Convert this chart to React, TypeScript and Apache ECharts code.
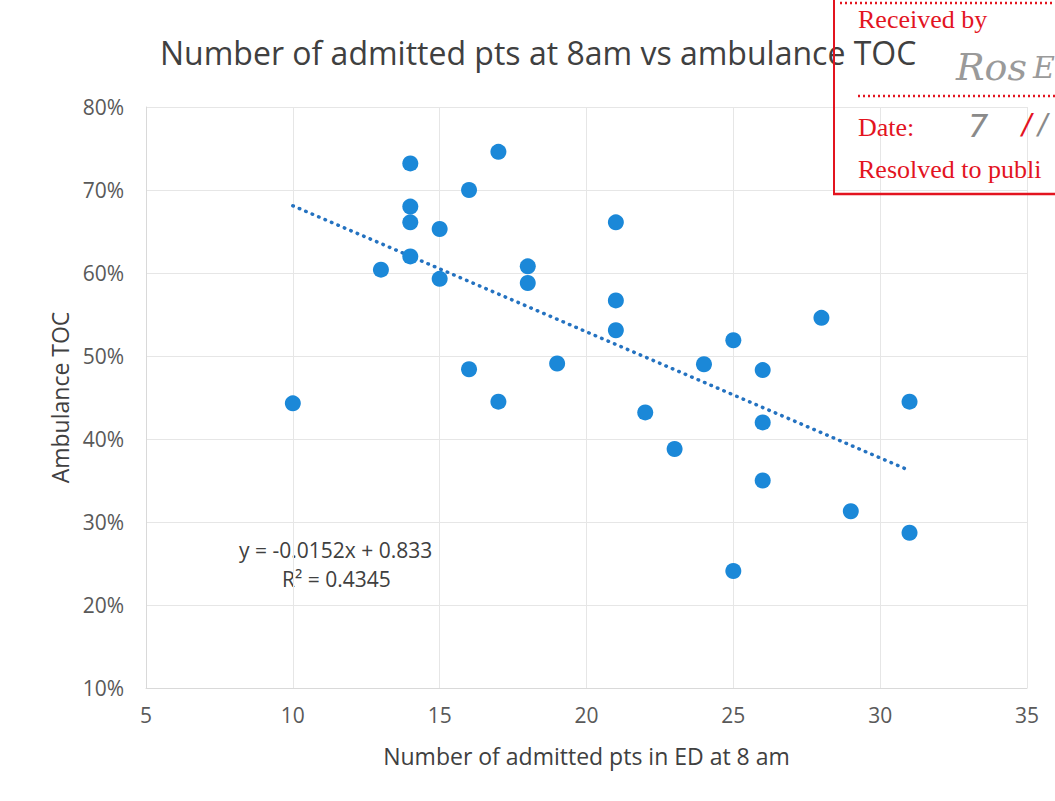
import React, { useEffect, useRef } from "react";
import * as echarts from "echarts";

const titleText = "Number of admitted pts at 8am vs ambulance TOC";
const xAxisName = "Number of admitted pts in ED at 8 am";
const yAxisName = "Ambulance TOC";

// x: admitted patients, y: ambulance TOC (%)
const admitted = [10, 13, 14, 14, 14, 14, 15, 15, 16, 16, 17, 17, 18, 18, 19, 21, 21, 21, 22, 23, 24, 25, 25, 26, 26, 26, 28, 29, 31, 31];
const tocPct = [44.3, 60.4, 73.2, 68.0, 66.1, 62.0, 65.3, 59.3, 70.0, 48.4, 74.6, 44.5, 60.8, 58.8, 49.1, 66.1, 56.7, 53.1, 43.2, 38.8, 49.0, 51.9, 24.1, 48.3, 42.0, 35.0, 54.6, 31.3, 44.5, 28.7];

// linear trendline end points (from y = -0.0152x + 0.833)
const trendX = [10, 31];
const trendY = [68.1, 36.2];

const eqLine1 = "y = -0.0152x + 0.833";
const eqLine2 = "R² = 0.4345";

const FONT = "'Open Sans', 'Noto Sans', sans-serif";
const RED = "#e3141f";
const SERIF = "'Liberation Serif', serif";

export default function App() {
  const ref = useRef<HTMLDivElement>(null);
  useEffect(() => {
    document.body.style.margin = "0";
    if (!ref.current) return;
    const chart = echarts.init(ref.current, null, { renderer: "svg" });
    const points = admitted.map((x, i) => [x, tocPct[i]]);
    const trend = trendX.map((x, i) => [x, trendY[i]]);
    chart.setOption({
      animation: false,
      backgroundColor: "#ffffff",
      textStyle: { fontFamily: FONT },
      title: {
        text: titleText,
        left: 160,
        top: 36,
        padding: 0,
        textStyle: { fontFamily: FONT, fontSize: 32, lineHeight: 32, fontWeight: "normal", color: "#404040" },
      },
      grid: { left: 146, top: 107, right: 28, bottom: 113, containLabel: false },
      xAxis: {
        type: "value",
        min: 5,
        max: 35,
        interval: 5,
        name: xAxisName,
        nameLocation: "middle",
        nameGap: 56,
        nameTextStyle: { fontFamily: FONT, fontSize: 23, color: "#404040" },
        axisLine: { show: true, lineStyle: { color: "#d9d9d9", width: 1 } },
        axisTick: { show: false },
        axisLabel: { fontFamily: FONT, fontSize: 21, color: "#595959", margin: 16 },
        splitLine: { show: true, lineStyle: { color: "#e6e6e6", width: 1 } },
      },
      yAxis: {
        type: "value",
        min: 10,
        max: 80,
        interval: 10,
        name: yAxisName,
        nameLocation: "middle",
        nameGap: 74,
        nameRotate: 90,
        nameTextStyle: { fontFamily: FONT, fontSize: 23, color: "#404040" },
        axisLine: { show: true, lineStyle: { color: "#d9d9d9", width: 1 } },
        axisTick: { show: false },
        axisLabel: { fontFamily: FONT, fontSize: 21, color: "#595959", margin: 22, formatter: "{value}%" },
        splitLine: { show: true, lineStyle: { color: "#e6e6e6", width: 1 } },
      },
      series: [
        {
          type: "line",
          data: trend,
          symbol: "none",
          silent: true,
          z: 3,
          lineStyle: { color: "#2472c0", width: 3.5, type: [0.5, 6.5], cap: "round" },
        },
        {
          type: "scatter",
          data: points,
          symbol: "circle",
          symbolSize: 16,
          z: 4,
          itemStyle: { color: "#1b88d8", opacity: 1 },
        },
      ],
      graphic: [
        {
          type: "text",
          left: 239,
          top: 539,
          style: { text: eqLine1, font: `21px ${FONT}`, fill: "#404040" },
        },
        {
          type: "text",
          left: 282,
          top: 568,
          style: { text: eqLine2, font: `21px ${FONT}`, fill: "#404040" },
        },
        // stamp
        { type: "line", shape: { x1: 834, y1: 0, x2: 834, y2: 194 }, style: { stroke: RED, lineWidth: 2 }, z: 10 },
        { type: "line", shape: { x1: 833, y1: 194, x2: 1055, y2: 194 }, style: { stroke: RED, lineWidth: 2.5 }, z: 10 },
        { type: "line", shape: { x1: 840, y1: 3, x2: 1055, y2: 3 }, style: { stroke: RED, lineWidth: 2.5, lineDash: [2, 3] }, z: 10 },
        { type: "line", shape: { x1: 858, y1: 96, x2: 1055, y2: 96 }, style: { stroke: RED, lineWidth: 2.5, lineDash: [2, 3] }, z: 10 },
        {
          type: "text", x: 858, y: 6, z: 10,
          style: { text: "Received by", font: `26px ${SERIF}`, fill: RED },
        },
        {
          type: "text", x: 858, y: 114, z: 10,
          style: { text: "Date:", font: `26px ${SERIF}`, fill: RED },
        },
        {
          type: "text", x: 858, y: 156, z: 10,
          style: { text: "Resolved to publi", font: `26px ${SERIF}`, fill: RED },
        },
        {
          type: "text", x: 956, y: 48, z: 10,
          style: { text: "Ros", font: `italic 38px 'DejaVu Serif', serif`, fill: "#9a9a9a" },
        },
        {
          type: "text", x: 1033, y: 52, z: 10,
          style: { text: "E", font: `italic 30px 'DejaVu Serif', serif`, fill: "#9a9a9a" },
        },
        {
          type: "text", x: 968, y: 110, z: 10,
          style: { text: "7", font: `italic 32px 'DejaVu Sans', sans-serif`, fill: "#8a8a8a" },
        },
        {
          type: "text", x: 1022, y: 110, z: 10,
          style: { text: "/", font: `italic 28px 'DejaVu Sans', sans-serif`, fill: RED },
        },
        {
          type: "text", x: 1038, y: 110, z: 10,
          style: { text: "/", font: `italic 28px 'DejaVu Sans', sans-serif`, fill: "#8a8a8a" },
        },
      ],
    });
    return () => chart.dispose();
  }, []);
  return <div ref={ref} style={{ width: 1055, height: 801 }} />;
}
